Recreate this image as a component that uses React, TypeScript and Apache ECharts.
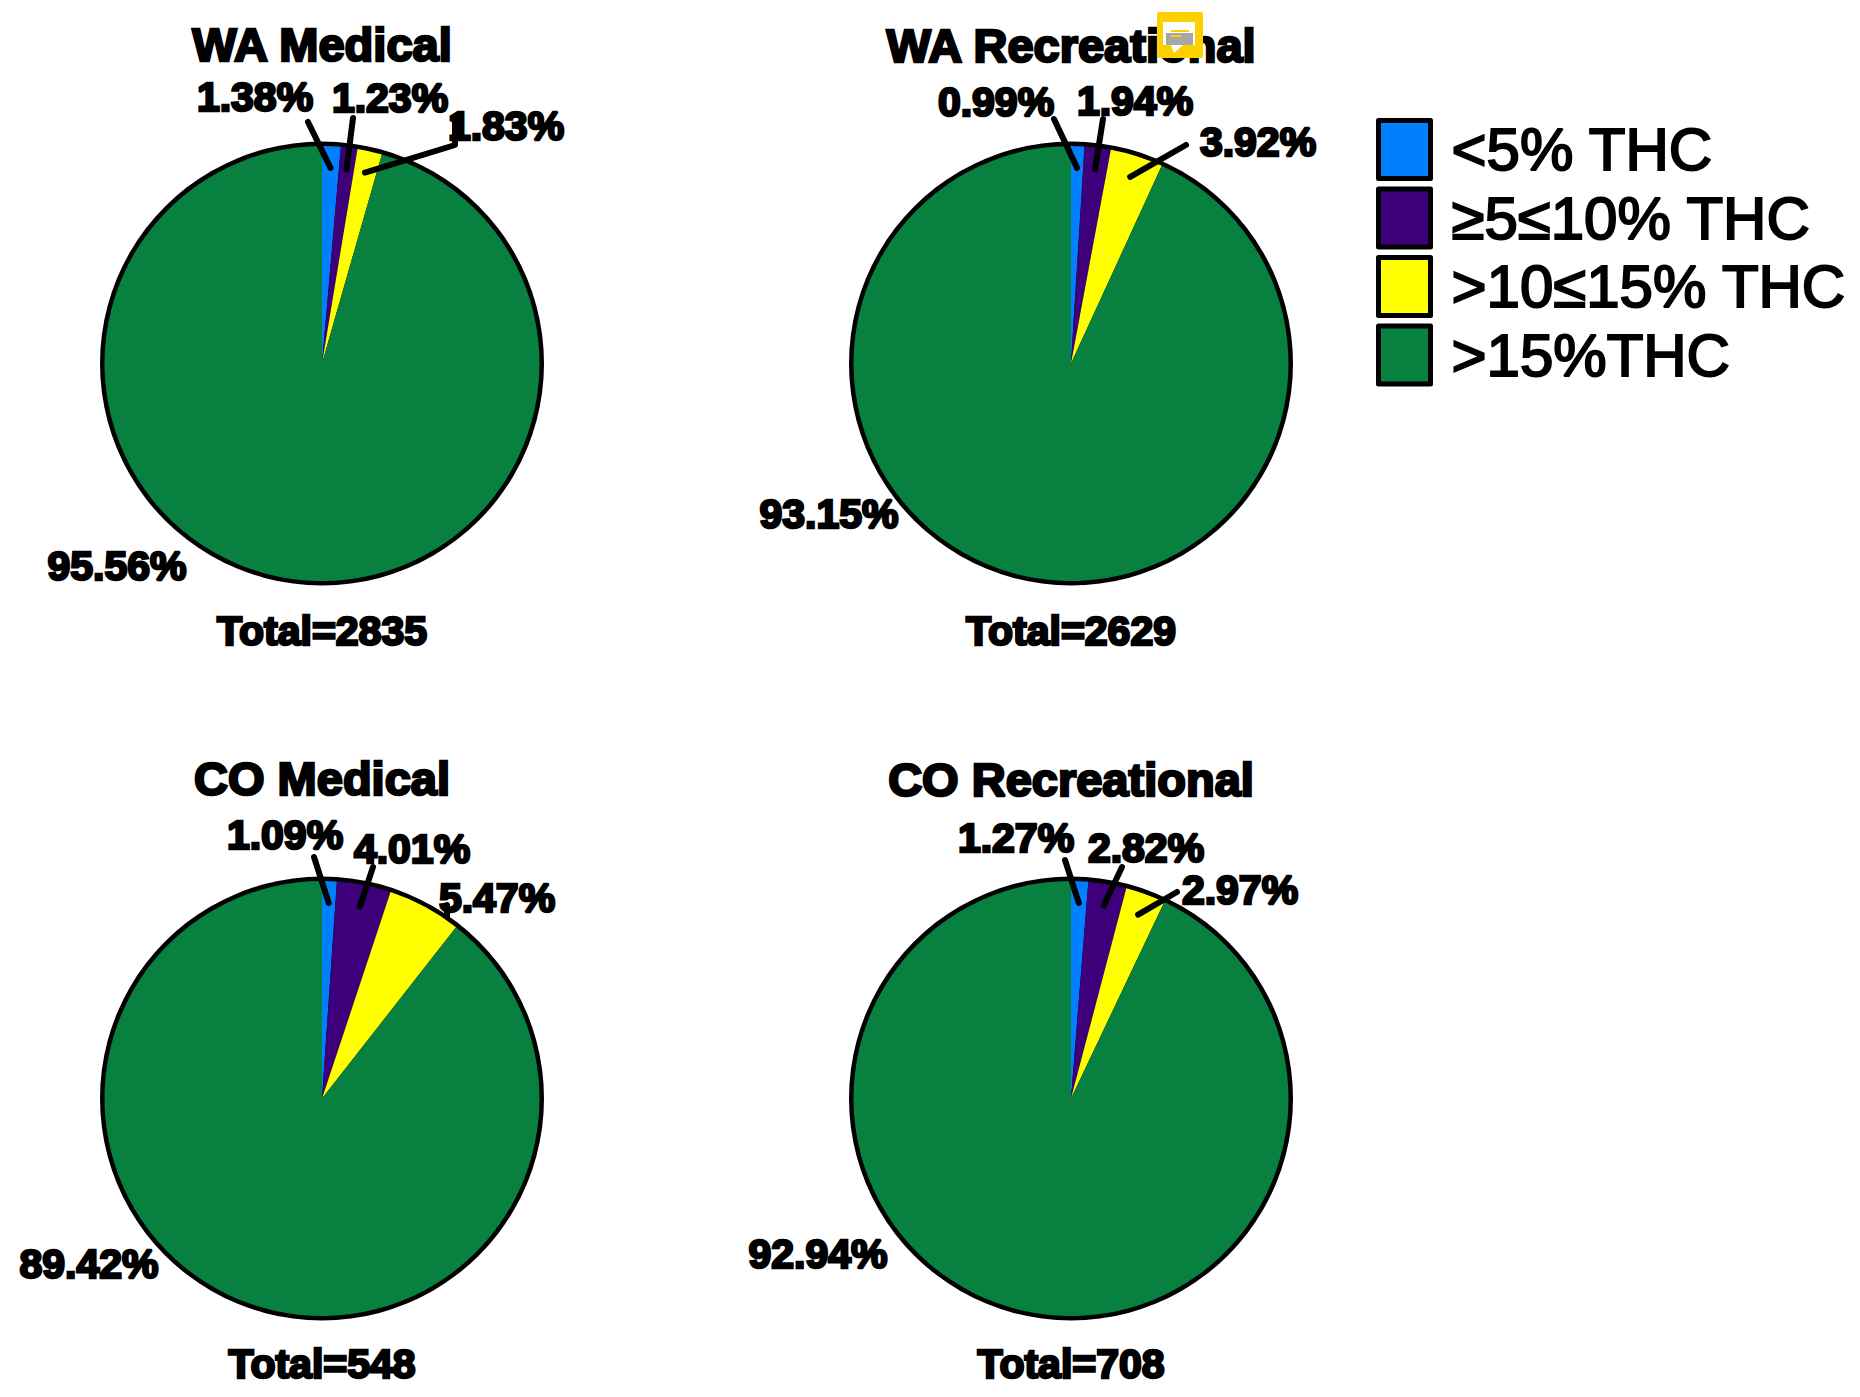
import React, { useEffect, useRef } from "react";
import * as echarts from "echarts";

const bandNames = ["<5% THC", "≥5≤10% THC", ">10≤15% THC", ">15%THC"];
const bandColors = ["#0080ff", "#3d007a", "#ffff00", "#078040"];

const panelTitles = ["WA Medical", "WA Recreational", "CO Medical", "CO Recreational"];
const panelTotals = [2835, 2629, 548, 708];

const waMedical = [1.38, 1.23, 1.83, 95.56];
const waRecreational = [0.99, 1.94, 3.92, 93.15];
const coMedical = [1.09, 4.01, 5.47, 89.42];
const coRecreational = [1.27, 2.82, 2.97, 92.94];
const panelValues = [waMedical, waRecreational, coMedical, coRecreational];

const FONT = "Liberation Sans";
const RADIUS = 222;
const RIM = 4.5;
const LEADER_DEPTH = 0.9;

const centers = [
  [322, 363.5],
  [1071, 363.5],
  [322, 1098.5],
  [1071, 1098.5],
];
const titleY = [44, 45, 778, 779];
const totalY = [631, 631, 1364, 1364];

// Label centres, one row per panel, in slice order.
const labelCenters = [
  [[255, 97], [390, 98], [506, 126], [117, 566]],
  [[996, 102], [1135, 101], [1258, 142], [829, 514]],
  [[285, 835], [412, 849], [497, 898], [89, 1264]],
  [[1016, 838], [1146, 848], [1240, 890], [818, 1254]],
];
// Leader line waypoints running from the label towards its slice.
const leaderPaths = [
  [[[308, 122]], [[353, 118]], [[455, 117], [455, 145]], []],
  [[[1054, 119]], [[1103, 119]], [[1186, 145]], []],
  [[[314, 857]], [[373, 867]], [[447, 905], [447, 916]], []],
  [[[1065, 860]], [[1122, 867]], [[1177, 892]], []],
];

function sliceAnchor(values: number[], index: number, center: number[]) {
  const total = values.reduce((a, b) => a + b, 0);
  const before = values.slice(0, index).reduce((a, b) => a + b, 0);
  const angle = ((before + values[index] / 2) / total) * Math.PI * 2;
  const r = (RADIUS - RIM) * LEADER_DEPTH;
  return [center[0] + Math.sin(angle) * r, center[1] - Math.cos(angle) * r];
}

function buildLeaders() {
  const lines: any[] = [];
  panelValues.forEach((values, p) => {
    values.forEach((_, i) => {
      const path = leaderPaths[p][i];
      if (!path.length) return;
      // The 5.47% label only has a short tick that stays outside its slice.
      const isShortTick = p === 2 && i === 2;
      const points = isShortTick ? path : [...path, sliceAnchor(values, i, centers[p])];
      lines.push({
        type: "polyline",
        z: 50,
        shape: { points },
        style: { stroke: "#000", lineWidth: 6, lineCap: "round", lineJoin: "round", fill: "none" },
      });
    });
  });
  return lines;
}

function buildOption() {
  const series = panelValues.map((values, p) => ({
    type: "pie",
    center: centers[p],
    radius: [0, RADIUS - RIM],
    startAngle: 90,
    clockwise: true,
    silent: true,
    avoidLabelOverlap: false,
    itemStyle: { borderWidth: 0 },
    data: values.map((value, i) => ({
      name: bandNames[i],
      value,
      itemStyle: { color: bandColors[i] },
    })),
    label: {
      show: true,
      position: "outside",
      formatter: (d: any) => `${d.value.toFixed(2)}%`,
      fontFamily: FONT,
      fontWeight: "bold",
      fontSize: 41,
      color: "#000",
      textBorderColor: "#000",
      textBorderWidth: 2.5,
    },
    labelLine: { show: false },
    labelLayout: (params: any) => {
      const [x, y] = labelCenters[p][params.dataIndex];
      return { x, y, align: "center", verticalAlign: "middle", hideOverlap: false };
    },
  }));

  const textTitles = panelTitles.flatMap((text, p) => [
    {
      text,
      left: centers[p][0],
      top: titleY[p],
      textAlign: "center",
      textVerticalAlign: "middle",
      padding: 0,
      textStyle: {
        fontFamily: FONT,
        fontWeight: "bold",
        fontSize: 47,
        color: "#000",
        textBorderColor: "#000",
        textBorderWidth: 2.5,
      },
    },
    {
      text: `Total=${panelTotals[p]}`,
      left: centers[p][0],
      top: totalY[p],
      textAlign: "center",
      textVerticalAlign: "middle",
      padding: 0,
      textStyle: {
        fontFamily: FONT,
        fontWeight: "bold",
        fontSize: 41,
        color: "#000",
        textBorderColor: "#000",
        textBorderWidth: 2.5,
      },
    },
  ]);

  const rims = centers.map(([cx, cy]) => ({
    type: "circle",
    z: 0,
    shape: { cx, cy, r: RADIUS },
    style: { fill: "#000" },
  }));

  // Comment marker sitting over the second panel's title.
  const marker = {
    type: "group",
    x: 1157,
    y: 12,
    z: 100,
    children: [
      { type: "rect", z: 100, shape: { x: 0, y: 0, width: 46, height: 46, r: 2 }, style: { fill: "#ffd000" } },
      { type: "rect", z: 101, shape: { x: 6, y: 10, width: 32, height: 23 }, style: { fill: "#ffffff" } },
      { type: "rect", z: 102, shape: { x: 9, y: 21, width: 27, height: 12 }, style: { fill: "#a6a6a6" } },
      { type: "polygon", z: 103, shape: { points: [[14, 33], [26, 33], [17, 41]] }, style: { fill: "#ffffff" } },
      { type: "rect", z: 104, shape: { x: 14, y: 18, width: 18, height: 2 }, style: { fill: "#ffd000" } },
      { type: "rect", z: 104, shape: { x: 14, y: 23, width: 10, height: 2 }, style: { fill: "#ffd000" } },
    ],
  };

  return {
    animation: false,
    backgroundColor: "#ffffff",
    title: textTitles,
    legend: {
      orient: "vertical",
      left: 1376,
      top: 118,
      data: bandNames,
      icon: "rect",
      itemWidth: 52,
      itemHeight: 58,
      itemGap: 5.5,
      padding: 0,
      selectedMode: false,
      itemStyle: { borderColor: "#000", borderWidth: 5 },
      textStyle: {
        fontFamily: FONT,
        fontSize: 60,
        lineHeight: 56,
        color: "#000",
        textBorderColor: "#000",
        textBorderWidth: 2,
        padding: [0, 0, 0, 16],
      },
    },
    graphic: { elements: [...rims, ...buildLeaders(), marker] },
    series,
  };
}

export default function App() {
  const ref = useRef<HTMLDivElement>(null);
  useEffect(() => {
    const chart = echarts.init(ref.current!, undefined, { renderer: "svg" });
    chart.setOption(buildOption() as any);
    return () => chart.dispose();
  }, []);
  return (
    <div
      ref={ref}
      style={{ position: "absolute", left: 0, top: 0, width: 1860, height: 1397 }}
    />
  );
}
